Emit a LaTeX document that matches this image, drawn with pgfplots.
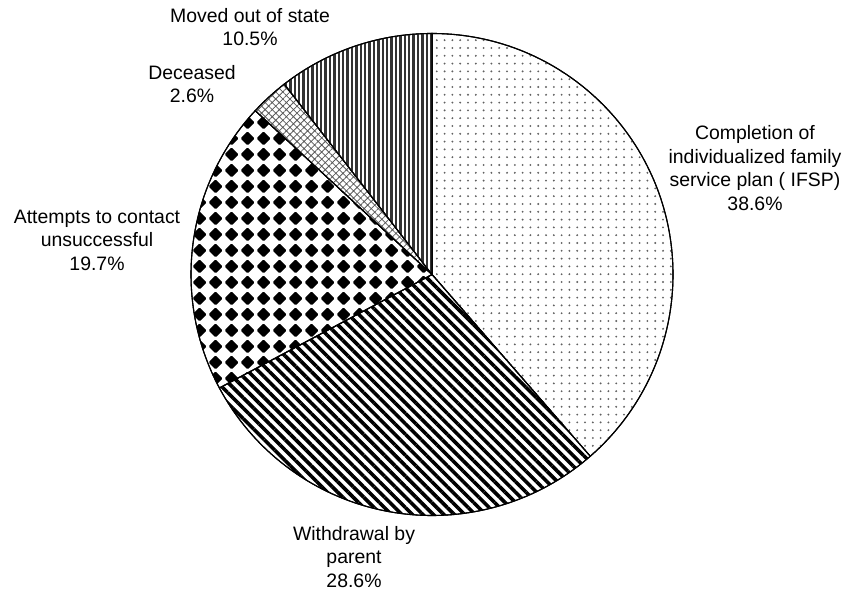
\documentclass[border=0pt]{standalone}
\usepackage{pgfplots}
\pgfplotsset{compat=1.18}
\usepackage{pgfplotstable}
\usepackage{fontspec}
\setmainfont{Liberation Sans}
\usetikzlibrary{patterns,patterns.meta}

\tikzdeclarepattern{
  name=diamonds,
  type=uncolored,
  bounding box={(0,0) and (16bp,16bp)},
  tile size={(16bp,16bp)},
  code={\fill[rounded corners=1.2bp] (8bp,0.5bp) -- (15.5bp,8bp) -- (8bp,15.5bp) -- (0.5bp,8bp) -- cycle;}
}

% slice values (percent), clockwise from 12 o'clock
\pgfplotstableread{
label value
Completion 38.6
Withdrawal 28.6
Attempts 19.7
Deceased 2.6
Moved 10.5
}\piedata

\begin{document}
\begin{tikzpicture}
\begin{axis}[
  x=1bp, y=1bp,
  xmin=0, xmax=843, ymin=0, ymax=594,
  hide axis, clip=false,
]
\def\cx{432}\def\cy{319.5}\def\R{241}
% \slice{start percent}{end percent}{fill options}
\newcommand\slice[3]{%
  \filldraw[line width=1.1bp, draw=black, #3]
    (axis cs:\cx,\cy) -- ++({90-3.6*(#1)}:\R bp)
    arc[start angle={90-3.6*(#1)}, end angle={90-3.6*(#2)}, radius=\R bp] -- cycle;}
\slice{0}{38.6}{fill=white}
\slice{0}{38.6}{pattern={Dots[distance=7.8bp, radius=1.05bp]}, pattern color=black!62}
\slice{38.6}{67.2}{fill=white}
\slice{38.6}{67.2}{pattern={Lines[angle=-45, distance=7.4bp, line width=3.6bp]}, pattern color=black}
\slice{67.2}{86.9}{fill=white}
\slice{67.2}{86.9}{pattern=diamonds, pattern color=black}
\slice{86.9}{89.5}{fill=white}
\slice{86.9}{89.5}{pattern={Hatch[angle=45, distance=5bp, line width=0.8bp]}, pattern color=black!65}
\slice{89.5}{100}{fill=white}
\slice{89.5}{100}{pattern={Lines[angle=90, distance=4.4bp, line width=2.4bp]}, pattern color=black!80}

\tikzset{lab/.style={align=center, inner sep=0pt, font=\fontsize{19.5}{23.5}\selectfont}}
\node[lab] at (axis cs:755,426) {Completion of\\individualized family\\service plan ( IFSP)\\38.6\%};
\node[lab] at (axis cs:354,37) {Withdrawal by\\parent\\28.6\%};
\node[lab] at (axis cs:97,354) {Attempts to contact\\unsuccessful\\19.7\%};
\node[lab] at (axis cs:192,510) {Deceased\\2.6\%};
\node[lab] at (axis cs:250,567) {Moved out of state\\10.5\%};
\end{axis}
\pgfresetboundingbox
\useasboundingbox (0,0) rectangle (843bp,594bp);
\end{tikzpicture}
\end{document}
